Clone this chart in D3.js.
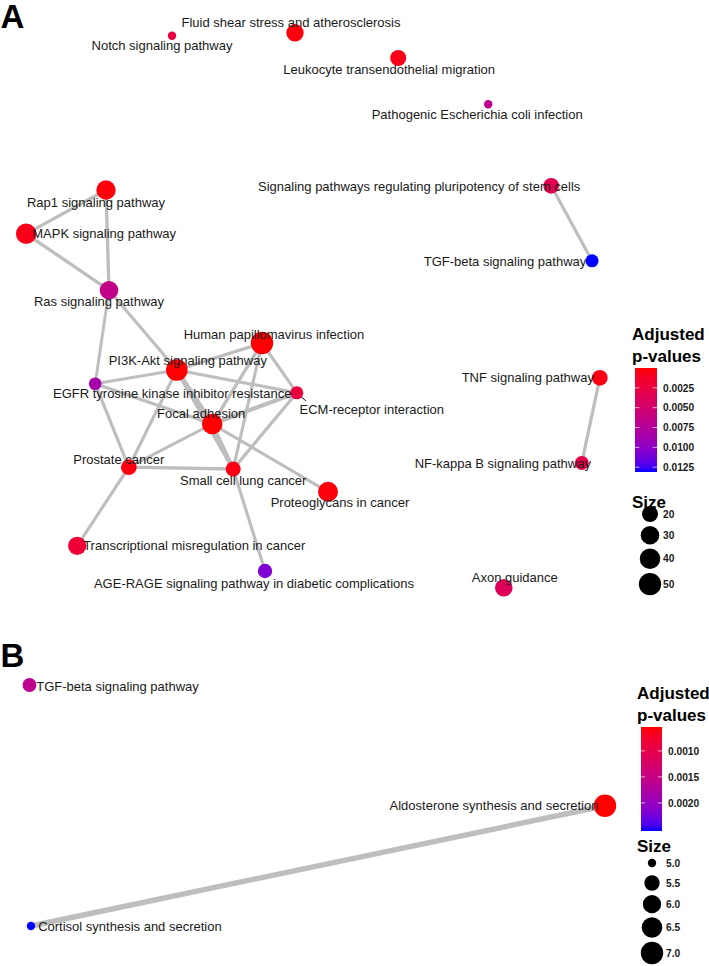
<!DOCTYPE html>
<html>
<head>
<meta charset="utf-8">
<script src="https://cdn.jsdelivr.net/npm/d3@7"></script>
<style>
  body { margin: 0; background: #fff; }
  text { font-family: "Liberation Sans", Arial, Helvetica, sans-serif; }
</style>
</head>
<body>
<svg id="visualizacion"></svg>
<script>
// 0) Constantes y datos
const WIDTH = 709;
const HEIGHT = 966;

// --- Panel A: términos KEGG, tamaño (genes), p ajustado y coordenadas del layout
const terminosA = [
  "Notch signaling pathway", "Fluid shear stress and atherosclerosis",
  "Leukocyte transendothelial migration", "Pathogenic Escherichia coli infection",
  "Signaling pathways regulating pluripotency of stem cells", "TGF-beta signaling pathway",
  "Rap1 signaling pathway", "MAPK signaling pathway", "Ras signaling pathway",
  "PI3K-Akt signaling pathway", "Human papillomavirus infection",
  "EGFR tyrosine kinase inhibitor resistance", "ECM-receptor interaction",
  "Focal adhesion", "Prostate cancer", "Small cell lung cancer",
  "Proteoglycans in cancer", "Transcriptional misregulation in cancer",
  "AGE-RAGE signaling pathway in diabetic complications",
  "TNF signaling pathway", "NF-kappa B signaling pathway", "Axon guidance"
];
const tamanosA = [7, 25, 20, 7, 19, 12, 34, 40, 30, 46, 51, 11, 12, 40, 19, 17, 37, 29, 15, 19, 14, 26];
const pvaloresA = [0.0026, 0.0003, 0.0007, 0.0068, 0.0033, 0.0131, 0.0002, 0.0007, 0.0065, 0.00005, 0.0001,
  0.0085, 0.0024, 0.00001, 0.0004, 0.0005, 0.0003, 0.0019, 0.0107, 0.0005, 0.0029, 0.0039];
const layoutXA = [-2.35, -0.30, 1.42, 2.92, 3.97, 4.65, -3.45, -4.78, -3.40, -2.27, -0.85,
  -3.63, -0.27, -1.68, -3.07, -1.33, 0.25, -3.93, -0.80, 4.78, 4.48, 3.18];
const layoutYA = [4.57, 4.62, 4.20, 3.43, 2.07, 0.82, 2.00, 1.27, 0.33, -1.00, -0.55,
  -1.23, -1.38, -1.90, -2.62, -2.65, -3.03, -3.93, -4.35, -1.13, -2.55, -4.63];
// enlaces: [origen, destino, similitud]
const enlacesA = [
  ["Rap1 signaling pathway", "MAPK signaling pathway", 0.25],
  ["Rap1 signaling pathway", "Ras signaling pathway", 0.27],
  ["MAPK signaling pathway", "Ras signaling pathway", 0.27],
  ["Ras signaling pathway", "PI3K-Akt signaling pathway", 0.25],
  ["Ras signaling pathway", "EGFR tyrosine kinase inhibitor resistance", 0.22],
  ["PI3K-Akt signaling pathway", "Human papillomavirus infection", 0.28],
  ["PI3K-Akt signaling pathway", "EGFR tyrosine kinase inhibitor resistance", 0.25],
  ["PI3K-Akt signaling pathway", "ECM-receptor interaction", 0.25],
  ["PI3K-Akt signaling pathway", "Focal adhesion", 0.45],
  ["PI3K-Akt signaling pathway", "Small cell lung cancer", 0.38],
  ["PI3K-Akt signaling pathway", "Prostate cancer", 0.25],
  ["EGFR tyrosine kinase inhibitor resistance", "Prostate cancer", 0.25],
  ["EGFR tyrosine kinase inhibitor resistance", "Focal adhesion", 0.23],
  ["Human papillomavirus infection", "Focal adhesion", 0.28],
  ["Human papillomavirus infection", "Small cell lung cancer", 0.25],
  ["Human papillomavirus infection", "ECM-receptor interaction", 0.25],
  ["Focal adhesion", "ECM-receptor interaction", 0.4],
  ["Focal adhesion", "Small cell lung cancer", 0.38],
  ["Focal adhesion", "Prostate cancer", 0.24],
  ["Focal adhesion", "Proteoglycans in cancer", 0.25],
  ["Small cell lung cancer", "ECM-receptor interaction", 0.25],
  ["Small cell lung cancer", "Prostate cancer", 0.27],
  ["Small cell lung cancer", "AGE-RAGE signaling pathway in diabetic complications", 0.25],
  ["Prostate cancer", "Transcriptional misregulation in cancer", 0.25],
  ["Signaling pathways regulating pluripotency of stem cells", "TGF-beta signaling pathway", 0.25],
  ["TNF signaling pathway", "NF-kappa B signaling pathway", 0.27]
];
const cortesColorA = [0.0025, 0.005, 0.0075, 0.01, 0.0125];
const cortesTamanoA = [20, 30, 40, 50];

// --- Panel B
const terminosB = ["TGF-beta signaling pathway", "Aldosterone synthesis and secretion", "Cortisol synthesis and secretion"];
const tamanosB = [5.3, 7, 5];
const pvaloresB = [0.0016, 0.00054, 0.00254];
const layoutXB = [-1, 1, -0.995];
const layoutYB = [1, -0.002, -1];
const enlacesB = [["Cortisol synthesis and secretion", "Aldosterone synthesis and secretion", 0.3]];
const cortesColorB = [0.001, 0.0015, 0.002];
const cortesTamanoB = [5, 5.5, 6, 6.5, 7];

// desplazamientos de las etiquetas (tipo ggrepel), en pixeles
const repelA = {
  "Notch signaling pathway": [-10, 10],
  "Fluid shear stress and atherosclerosis": [-4, -10],
  "Leukocyte transendothelial migration": [-9, 11],
  "Pathogenic Escherichia coli infection": [-11, 10],
  "Signaling pathways regulating pluripotency of stem cells": [-132, 1],
  "TGF-beta signaling pathway": [-87, 1],
  "Rap1 signaling pathway": [-10, 12],
  "MAPK signaling pathway": [78, 0],
  "Ras signaling pathway": [-10, 11],
  "PI3K-Akt signaling pathway": [11, -10],
  "Human papillomavirus infection": [12, -9],
  "EGFR tyrosine kinase inhibitor resistance": [77, 10],
  "ECM-receptor interaction": [75, 17],
  "Focal adhesion": [-11, -11],
  "Prostate cancer": [-10, -8],
  "Small cell lung cancer": [10, 11],
  "Proteoglycans in cancer": [12, 11],
  "Transcriptional misregulation in cancer": [117, 0],
  "AGE-RAGE signaling pathway in diabetic complications": [-11, 12],
  "TNF signaling pathway": [-72, 0],
  "NF-kappa B signaling pathway": [-79, 0],
  "Axon guidance": [11, -10]
};
const segmentosA = { "ECM-receptor interaction": [[2, 2], [9, 8]] };
const repelB = {
  "TGF-beta signaling pathway": [88, 1],
  "Aldosterone synthesis and secretion": [-111, 0],
  "Cortisol synthesis and secretion": [99, 0]
};

const svg = d3.select("#visualizacion")
  .attr("width", WIDTH)
  .attr("height", HEIGHT);

// 1) Funcion que dibuja un panel de red con su leyenda
const dibujarPanel = (cfg) => {
  const g = svg.append("g");
  const nodos = cfg.terminos.map((t, i) => ({
    nombre: t, tam: cfg.tamanos[i], p: cfg.pvalores[i], lx: cfg.layoutX[i], ly: cfg.layoutY[i]
  }));
  const porNombre = new Map(nodos.map(d => [d.nombre, d]));

  const escalaX = d3.scaleLinear().domain(cfg.dominioX).range(cfg.rangoX);
  const escalaY = d3.scaleLinear().domain(cfg.dominioY).range(cfg.rangoY);

  const color = d3.scaleLinear()
    .domain(d3.extent(cfg.pvalores))
    .range(["red", "blue"])
    .interpolate(d3.interpolateLab);

  // tamaño como en ggplot (area_pal): radio = lo + (hi-lo)*sqrt(t)
  const [nMin, nMax] = d3.extent(cfg.tamanos);
  const escalaR = d3.scaleSqrt().domain([0, nMax - nMin]).range([4.2, 11.2]);
  const radio = n => escalaR(n - nMin);

  const escalaAncho = d3.scaleLinear()
    .domain(cfg.dominioPeso)
    .range(cfg.rangoAncho);

  // enlaces
  g.append("g").selectAll("line")
    .data(cfg.enlaces)
    .join("line")
    .attr("x1", d => escalaX(porNombre.get(d[0]).lx))
    .attr("y1", d => escalaY(porNombre.get(d[0]).ly))
    .attr("x2", d => escalaX(porNombre.get(d[1]).lx))
    .attr("y2", d => escalaY(porNombre.get(d[1]).ly))
    .attr("stroke", "#bebebe")
    .attr("stroke-width", d => escalaAncho(d[2]));

  // segmentos de etiquetas
  g.append("g").selectAll("line")
    .data(nodos.filter(d => cfg.segmentos[d.nombre]))
    .join("line")
    .attr("x1", d => escalaX(d.lx) + cfg.segmentos[d.nombre][0][0])
    .attr("y1", d => escalaY(d.ly) + cfg.segmentos[d.nombre][0][1])
    .attr("x2", d => escalaX(d.lx) + cfg.segmentos[d.nombre][1][0])
    .attr("y2", d => escalaY(d.ly) + cfg.segmentos[d.nombre][1][1])
    .attr("stroke", "#000")
    .attr("stroke-width", 1);

  // nodos
  g.append("g").selectAll("circle")
    .data(nodos)
    .join("circle")
    .attr("cx", d => escalaX(d.lx))
    .attr("cy", d => escalaY(d.ly))
    .attr("r", d => radio(d.tam))
    .attr("fill", d => color(d.p));

  // etiquetas
  g.append("g").selectAll("text")
    .data(nodos)
    .join("text")
    .attr("x", d => escalaX(d.lx) + cfg.repel[d.nombre][0])
    .attr("y", d => escalaY(d.ly) + cfg.repel[d.nombre][1] + 4.6)
    .attr("text-anchor", "middle")
    .attr("font-size", 13)
    .attr("fill", "#1a1a1a")
    .text(d => d.nombre);

  // letra del panel
  g.append("text")
    .attr("x", 0.5)
    .attr("y", cfg.letraY)
    .attr("font-size", 33)
    .attr("font-weight", "bold")
    .text(cfg.letra);

  // 2) Leyenda
  const ley = cfg.leyenda;
  const lg = g.append("g");
  lg.append("text")
    .attr("x", ley.x).attr("y", ley.tituloY)
    .attr("font-size", 17).attr("font-weight", "bold")
    .text("Adjusted");
  lg.append("text")
    .attr("x", ley.x).attr("y", ley.tituloY + 22)
    .attr("font-size", 17).attr("font-weight", "bold")
    .text("p-values");

  const idGrad = "grad" + cfg.letra;
  const grad = svg.append("defs").append("linearGradient")
    .attr("id", idGrad)
    .attr("x1", 0).attr("y1", 0).attr("x2", 0).attr("y2", 1);
  const [p0, p1] = color.domain();
  d3.range(0, 1.0001, 0.05).forEach(f => {
    grad.append("stop")
      .attr("offset", f)
      .attr("stop-color", color(p0 + f * (p1 - p0)));
  });
  const barX = ley.x + ley.barDx;
  lg.append("rect")
    .attr("x", barX).attr("y", ley.barTop)
    .attr("width", ley.barW).attr("height", ley.barH)
    .attr("fill", `url(#${idGrad})`);

  const escalaBarra = d3.scaleLinear().domain(color.domain()).range([ley.barTop, ley.barTop + ley.barH]);
  const eje = lg.append("g")
    .attr("transform", `translate(${barX + ley.barW}, 0)`)
    .call(d3.axisRight(escalaBarra).tickValues(cfg.cortesColor).tickSize(0).tickPadding(6)
      .tickFormat(d3.format(".4f")));
  eje.select(".domain").remove();
  eje.selectAll("text")
    .attr("font-size", 10.2).attr("font-weight", "bold").attr("fill", "#1a1a1a")
    .attr("font-family", "Liberation Sans, Arial, sans-serif");

  // marcas blancas sobre la barra
  cfg.cortesColor.forEach(v => {
    [barX, barX + ley.barW * 0.8].forEach(x0 => {
      lg.append("line")
        .attr("x1", x0).attr("x2", x0 + ley.barW * 0.2)
        .attr("y1", escalaBarra(v)).attr("y2", escalaBarra(v))
        .attr("stroke", "#fff").attr("stroke-width", 0.8).attr("opacity", 0.8);
    });
  });

  lg.append("text")
    .attr("x", ley.x).attr("y", ley.tamTituloY)
    .attr("font-size", 17).attr("font-weight", "bold")
    .text("Size");

  // claves de tamaño, alto de cada clave = max(diametro + 4, 20)
  let yAct = ley.primerClaveY;
  let altoPrev = null;
  cfg.cortesTamano.forEach(v => {
    const r = radio(v);
    const alto = Math.max(2 * r + 4, 20);
    if (altoPrev !== null) yAct += (altoPrev + alto) / 2;
    altoPrev = alto;
    lg.append("circle")
      .attr("cx", ley.circuloX).attr("cy", yAct).attr("r", r).attr("fill", "#000");
    lg.append("text")
      .attr("x", ley.textoX).attr("y", yAct + 3.7)
      .attr("font-size", 10.2).attr("font-weight", "bold").attr("fill", "#1a1a1a")
      .text(d3.format(ley.formatoTam)(v));
  });
};

dibujarPanel({
  letra: "A", letraY: 28,
  terminos: terminosA, tamanos: tamanosA, pvalores: pvaloresA,
  layoutX: layoutXA, layoutY: layoutYA, enlaces: enlacesA,
  dominioX: [-5, 5], rangoX: [13, 613],
  dominioY: [-5, 5], rangoY: [610, 10],
  dominioPeso: [0.2, 0.45], rangoAncho: [2.8, 4.6],
  repel: repelA, segmentos: segmentosA,
  cortesColor: cortesColorA, cortesTamano: cortesTamanoA,
  leyenda: {
    x: 632, tituloY: 340, barDx: 3, barTop: 368, barH: 104, barW: 22,
    tamTituloY: 508, primerClaveY: 514, circuloX: 650, textoX: 663, formatoTam: "d"
  }
});

dibujarPanel({
  letra: "B", letraY: 667,
  terminos: terminosB, tamanos: tamanosB, pvalores: pvaloresB,
  layoutX: layoutXB, layoutY: layoutYB, enlaces: enlacesB,
  dominioX: [-1, 1], rangoX: [29.5, 605],
  dominioY: [-1, 1], rangoY: [926, 685],
  dominioPeso: [0, 0.3], rangoAncho: [2, 5.4],
  repel: repelB, segmentos: {},
  cortesColor: cortesColorB, cortesTamano: cortesTamanoB,
  leyenda: {
    x: 637, tituloY: 699, barDx: 4, barTop: 727, barH: 104, barW: 21,
    tamTituloY: 852, primerClaveY: 863, circuloX: 652, textoX: 666, formatoTam: ".1f"
  }
});
</script>
</body>
</html>
